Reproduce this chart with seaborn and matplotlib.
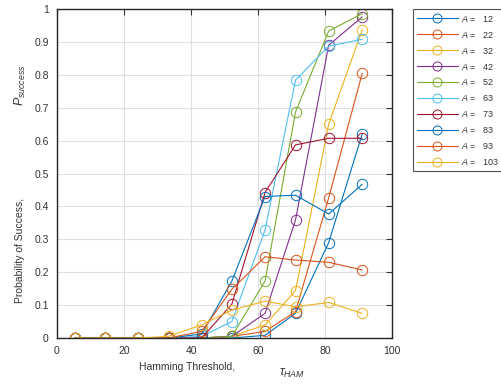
import numpy as np
import pandas as pd
import matplotlib
matplotlib.use("Agg")
import matplotlib.pyplot as plt
import seaborn as sns

# ---- data ----
thresholds = [5.4, 14.3, 24.3, 33.3, 43.2, 52.2, 62.1, 71.2, 81.1, 91.1]
A_values = [12, 22, 32, 42, 52, 63, 73, 83, 93, 103]
p_A12 = [0, 0, 0, 0, 0.0, 0.0, 0.008, 0.075, 0.29, 0.62]
p_A22 = [0, 0, 0, 0, 0.0, 0.005, 0.02, 0.08, 0.426, 0.804]
p_A32 = [0, 0, 0, 0, 0.0, 0.005, 0.04, 0.144, 0.65, 0.937]
p_A42 = [0, 0, 0, 0, 0.0, 0.005, 0.075, 0.359, 0.89, 0.976]
p_A52 = [0, 0, 0, 0, 0.0, 0.005, 0.173, 0.687, 0.933, 0.986]
p_A63 = [0, 0, 0, 0, 0.005, 0.05, 0.328, 0.784, 0.887, 0.908]
p_A73 = [0, 0, 0, 0, 0.0, 0.103, 0.442, 0.587, 0.607, 0.607]
p_A83 = [0, 0, 0, 0, 0.012, 0.173, 0.43, 0.434, 0.377, 0.467]
p_A93 = [0, 0, 0, 0, 0.02, 0.148, 0.247, 0.237, 0.23, 0.207]
p_A103 = [0, 0, 0, 0.005, 0.04, 0.085, 0.112, 0.095, 0.108, 0.075]
series = [p_A12, p_A22, p_A32, p_A42, p_A52, p_A63, p_A73, p_A83, p_A93, p_A103]

labels = [f"$A$ =   {a}" for a in A_values]
rows = []
for lab, ys in zip(labels, series):
    for x, y in zip(thresholds, ys):
        rows.append({"x": x, "y": y, "label": lab})
df = pd.DataFrame(rows)

colors = ["#0072BD", "#D95319", "#EDB120", "#7E2F8E", "#77AC30",
          "#4DBEEE", "#A2142F", "#0072BD", "#D95319", "#EDB120"]

sns.set_style("white")
plt.rcParams['font.family'] = ['Liberation Sans', 'DejaVu Sans']
plt.rcParams['mathtext.fontset'] = 'custom'
plt.rcParams['mathtext.rm'] = 'Liberation Sans'
plt.rcParams['mathtext.it'] = 'Liberation Sans:italic'

TXT = "#333333"
fig = plt.figure(figsize=(5.01, 3.87), dpi=100)
ax = fig.add_axes([57/501, 1 - 338/387, (392-57)/501, (338-9)/387])

sns.lineplot(data=df, x="x", y="y", hue="label", palette=colors,
             hue_order=labels, marker="o", markersize=7.5, linewidth=0.8,
             ax=ax, legend=True)
for line in ax.lines:
    c = line.get_color()
    line.set_markerfacecolor("none")
    line.set_markeredgecolor(c)
    line.set_markeredgewidth(0.7)

ax.set_xlim(0, 100)
ax.set_ylim(0, 1)
ax.set_xticks(np.arange(0, 101, 20))
ax.set_yticks(np.arange(0, 1.01, 0.1))
ax.set_yticklabels(["0", "0.1", "0.2", "0.3", "0.4", "0.5", "0.6", "0.7", "0.8", "0.9", "1"])
ax.grid(True, color="#e0e0e0", linewidth=0.8)
ax.set_axisbelow(True)
ax.tick_params(direction="in", length=4, width=0.8, labelsize=7.5,
               colors=TXT, top=True, right=True, pad=6)
for s in ax.spines.values():
    s.set_color("#262626")
    s.set_linewidth(1.0)
ax.set_xlabel("")
ax.set_ylabel("")

# axis labels
fig.text(187/501, 1 - 367/387, "Hamming Threshold,", ha="center", va="center",
         fontsize=7.5, color=TXT)
fig.text(292/501, 1 - 373/387, r"$\tau_{HAM}$", ha="center", va="center",
         fontsize=9, color=TXT)
fig.text(20/501, 1 - 250/387, "Probability of Success,", ha="center", va="center",
         rotation=90, fontsize=7.5, color=TXT)
fig.text(20/501, 1 - 85/387, r"$P_{success}$", ha="center", va="center",
         rotation=90, fontsize=9, color=TXT)

handles, labs = ax.get_legend_handles_labels()
for h in handles:
    c = h.get_color()
    h.set_markerfacecolor("none")
    h.set_markeredgecolor(c)
    h.set_markeredgewidth(0.7)
    h.set_markersize(6.5)
    h.set_linewidth(0.8)
leg = ax.legend(handles, labs, loc="upper left",
                bbox_to_anchor=(413/501, 1 - 9/387), bbox_transform=fig.transFigure,
                fontsize=6.5, frameon=True, fancybox=False, handlelength=4.6,
                labelspacing=0.55, borderpad=0.4, handletextpad=0.3,
                borderaxespad=0, labelcolor=TXT)
leg.get_frame().set_edgecolor("#262626")
leg.get_frame().set_linewidth(0.8)

fig.savefig("out.png", dpi=100)
